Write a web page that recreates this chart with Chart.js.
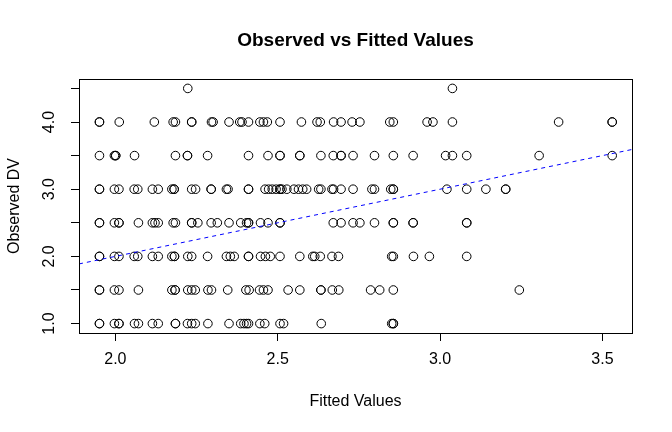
<!DOCTYPE html>
<html>
<head>
<meta charset="utf-8">
<script src="https://cdn.jsdelivr.net/npm/chart.js@4/dist/chart.umd.min.js"></script>
<style>
  html, body { margin: 0; padding: 0; background: #fff; }
  #wrap { width: 672px; height: 432px; }
</style>
</head>
<body>
<div id="wrap"><canvas id="chart"></canvas></div>
<script>
// Observed DV levels and the fitted values seen at each level
const observedLevels = [4.5, 4.0, 3.5, 3.0, 2.5, 2.0, 1.5, 1.0];

const fit45 = [2.223, 3.038];
const fit40 = [1.951, 1.951, 2.012, 2.120, 2.178, 2.185, 2.235, 2.235, 2.296, 2.301, 2.350, 2.383, 2.390, 2.410,
  2.445, 2.456, 2.468, 2.507, 2.573, 2.621, 2.631, 2.672, 2.695, 2.729, 2.753, 2.845, 2.856, 2.960, 2.978,
  3.038, 3.365, 3.530, 3.530];
const fit35 = [1.951, 1.997, 2.001, 2.001, 2.059, 2.185, 2.222, 2.222, 2.284, 2.410, 2.470, 2.507, 2.507, 2.568, 2.568,
  2.633, 2.671, 2.695, 2.695, 2.732, 2.798, 2.856, 2.917, 3.017, 3.038, 3.082, 3.305, 3.530];
const fit30 = [1.951, 1.951, 1.997, 2.011, 2.058, 2.069, 2.114, 2.132, 2.174, 2.181, 2.181, 2.235, 2.247, 2.295, 2.295,
  2.342, 2.347, 2.410, 2.410, 2.461, 2.472, 2.483, 2.495, 2.507, 2.507, 2.513, 2.528, 2.550, 2.564, 2.577,
  2.589, 2.626, 2.633, 2.667, 2.672, 2.695, 2.732, 2.790, 2.798, 2.848, 2.856, 2.856, 3.021, 3.082, 3.141, 3.202, 3.202];
const fit25 = [1.951, 1.951, 1.997, 2.011, 2.011, 2.071, 2.114, 2.122, 2.132, 2.178, 2.185, 2.235, 2.235, 2.254, 2.295,
  2.314, 2.350, 2.386, 2.404, 2.410, 2.410, 2.447, 2.470, 2.507, 2.507, 2.671, 2.695, 2.732, 2.753, 2.798,
  2.856, 2.856, 2.917, 2.917, 3.082, 3.082];
const fit20 = [1.951, 1.951, 1.997, 2.011, 2.058, 2.069, 2.114, 2.132, 2.174, 2.182, 2.182, 2.223, 2.235, 2.284, 2.342,
  2.354, 2.366, 2.410, 2.410, 2.447, 2.462, 2.477, 2.507, 2.568, 2.608, 2.614, 2.631, 2.667, 2.687, 2.851,
  2.856, 2.918, 2.967, 3.082];
const fit15 = [1.951, 1.951, 1.997, 2.011, 2.071, 2.174, 2.184, 2.184, 2.223, 2.235, 2.246, 2.285, 2.296, 2.346, 2.402,
  2.412, 2.444, 2.456, 2.470, 2.532, 2.568, 2.633, 2.633, 2.668, 2.688, 2.786, 2.814, 2.856, 3.244];
const fit10 = [1.951, 1.951, 1.997, 2.011, 2.011, 2.059, 2.071, 2.114, 2.132, 2.185, 2.185, 2.222, 2.235, 2.246, 2.285,
  2.350, 2.386, 2.396, 2.404, 2.410, 2.445, 2.460, 2.507, 2.518, 2.634, 2.851, 2.856, 2.856];

const fittedByLevel = [fit45, fit40, fit35, fit30, fit25, fit20, fit15, fit10];

// axes
const xRange = [1.888, 3.591];
const yRange = [0.86, 4.64];
const xTicks = [2.0, 2.5, 3.0, 3.5];
const yTicks = [1.0, 1.5, 2.0, 2.5, 3.0, 3.5, 4.0, 4.5];
const yTickLabels = [1.0, 2.0, 3.0, 4.0];

// reference line y = a + b x
const ablineA = 0;
const ablineB = 1;

const points = [];
observedLevels.forEach((lvl, i) => {
  fittedByLevel[i].forEach(f => points.push({ x: f, y: lvl }));
});

const FONT = '"Liberation Sans", Arial, Helvetica, sans-serif';

const decorPlugin = {
  id: 'decor',
  afterDraw(chart) {
    const ctx = chart.ctx;
    const a = chart.chartArea;
    const ys = chart.scales.y;
    ctx.save();
    // box
    ctx.strokeStyle = '#000';
    ctx.lineWidth = 1;
    ctx.strokeRect(a.left + 0.5, a.top + 0.5, a.right - a.left, a.bottom - a.top);

    ctx.fillStyle = '#000';
    ctx.textAlign = 'center';
    ctx.textBaseline = 'middle';

    // title
    ctx.font = 'bold 19px ' + FONT;
    ctx.fillText('Observed vs Fitted Values', (a.left + a.right) / 2, 41);

    // x axis title
    ctx.font = '16px ' + FONT;
    ctx.fillText('Fitted Values', (a.left + a.right) / 2, 402);

    // y axis title
    ctx.save();
    ctx.translate(15, (a.top + a.bottom) / 2);
    ctx.rotate(-Math.PI / 2);
    ctx.fillText('Observed DV', 0, 0);
    ctx.restore();

    // y tick labels (rotated, as in R)
    ctx.font = '16px ' + FONT;
    yTickLabels.forEach(v => {
      ctx.save();
      ctx.translate(50, ys.getPixelForValue(v));
      ctx.rotate(-Math.PI / 2);
      ctx.fillText(v.toFixed(1), 0, 0);
      ctx.restore();
    });
    ctx.restore();
  }
};

new Chart(document.getElementById('chart'), {
  type: 'scatter',
  data: {
    datasets: [
      {
        type: 'line',
        data: [
          { x: xRange[0], y: ablineA + ablineB * xRange[0] },
          { x: xRange[1], y: ablineA + ablineB * xRange[1] }
        ],
        borderColor: '#0000FF',
        borderWidth: 1,
        borderDash: [4, 4],
        pointRadius: 0,
        fill: false
      },
      {
        data: points,
        pointStyle: 'circle',
        pointRadius: 4.3,
        borderColor: '#000',
        borderWidth: 1,
        backgroundColor: 'rgba(0,0,0,0)'
      }
    ]
  },
  options: {
    responsive: true,
    maintainAspectRatio: false,
    animation: false,
    layout: { padding: { left: 0, right: 40, top: 79, bottom: 0 } },
    plugins: {
      legend: { display: false },
      tooltip: { enabled: false },
      title: { display: false }
    },
    scales: {
      x: {
        type: 'linear',
        min: xRange[0],
        max: xRange[1],
        afterBuildTicks: s => { s.ticks = xTicks.map(v => ({ value: v })); },
        afterFit: s => { s.height = 99; },
        grid: { drawOnChartArea: false, drawTicks: true, tickLength: 8, color: '#000' },
        border: { display: false },
        ticks: {
          color: '#000',
          padding: 9,
          font: { family: FONT, size: 16 },
          callback: v => Number(v).toFixed(1)
        }
      },
      y: {
        type: 'linear',
        min: yRange[0],
        max: yRange[1],
        afterBuildTicks: s => { s.ticks = yTicks.map(v => ({ value: v })); },
        afterFit: s => { s.width = 79; },
        grid: { drawOnChartArea: false, drawTicks: true, tickLength: 8, color: '#000' },
        border: { display: false },
        ticks: { display: false }
      }
    }
  },
  plugins: [decorPlugin]
});
</script>
</body>
</html>
